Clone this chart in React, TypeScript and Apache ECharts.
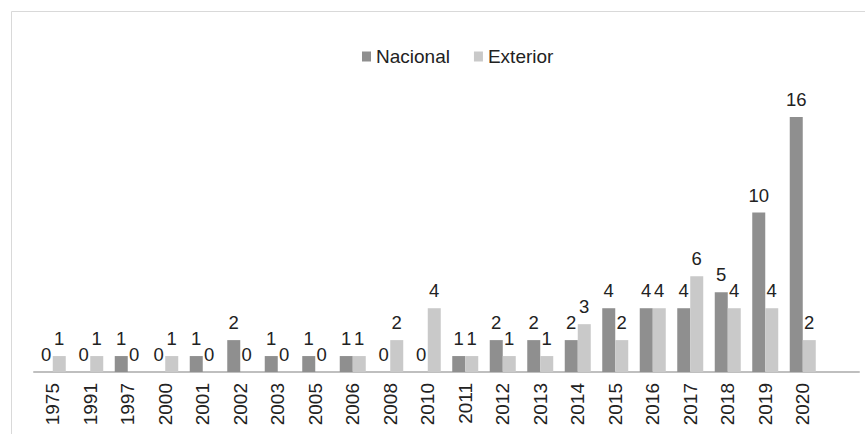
import React, { useEffect, useRef } from "react";
import * as echarts from "echarts";

const categories = ["1975","1991","1997","2000","2001","2002","2003","2005","2006","2008","2010","2011","2012","2013","2014","2015","2016","2017","2018","2019","2020",""];
const nacional = [0,0,1,0,1,2,1,1,1,0,0,1,2,2,2,4,4,4,5,10,16,null];
const exterior = [1,1,0,1,0,0,0,0,1,2,4,1,1,1,3,2,4,6,4,4,2,null];

export default function App() {
  const ref = useRef<HTMLDivElement>(null);
  useEffect(() => {
    document.body.style.margin = "0";
    const chart = echarts.init(ref.current!, null, { renderer: "svg" });
    const font = "'Liberation Sans', Arial, sans-serif";
    const label = {
      show: true,
      position: "top",
      distance: 8,
      fontFamily: font,
      fontSize: 18.5,
      color: "#222222",
    };
    chart.setOption({
      animation: false,
      backgroundColor: "#ffffff",
      graphic: [
        {
          type: "rect",
          shape: { x: 11.5, y: 11.5, width: 900, height: 500 },
          style: { fill: "none", stroke: "#d9d9d9", lineWidth: 1 },
          silent: true,
        },
      ],
      legend: {
        left: 357,
        top: 42,
        itemWidth: 9,
        itemHeight: 10,
        itemGap: 24,
        icon: "rect",
        textStyle: { fontFamily: font, fontSize: 19, color: "#222222" },
        data: ["Nacional", "Exterior"],
      },
      grid: { left: 34, right: 6, top: 85, bottom: 62, containLabel: false },
      xAxis: {
        type: "category",
        data: categories,
        axisLine: { lineStyle: { color: "#bfbfbf", width: 2 } },
        axisTick: { show: false },
        axisLabel: {
          rotate: 90,
          interval: 0,
          margin: 11,
          fontFamily: font,
          fontSize: 19,
          color: "#222222",
        },
      },
      yAxis: {
        type: "value",
        min: 0,
        max: 18,
        show: false,
        splitLine: { show: false },
      },
      series: [
        {
          name: "Nacional",
          type: "bar",
          data: nacional,
          barWidth: 13,
          barGap: "0%",
          itemStyle: { color: "#8f8f8f" },
          label,
        },
        {
          name: "Exterior",
          type: "bar",
          data: exterior,
          barWidth: 13,
          barGap: "0%",
          itemStyle: { color: "#c9c9c9" },
          label,
        },
      ],
    });
    return () => chart.dispose();
  }, []);
  return <div ref={ref} style={{ width: 865, height: 434 }} />;
}
